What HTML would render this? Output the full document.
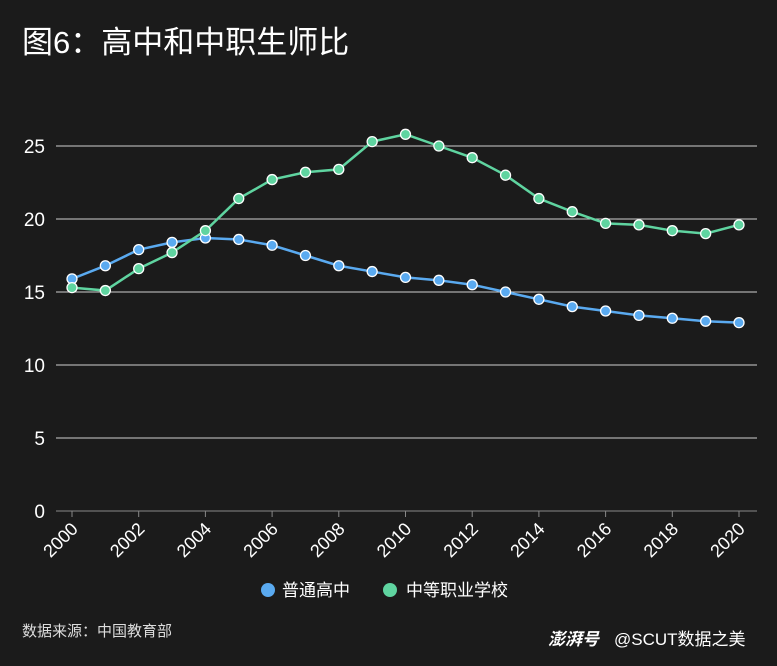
<!DOCTYPE html>
<html><head><meta charset="utf-8">
<style>
html,body{margin:0;padding:0;background:#1b1b1b;}
body{width:777px;height:661px;overflow:hidden;font-family:"Liberation Sans","Noto Sans CJK SC",sans-serif;color:#fff;}
</style></head>
<body>
<svg id="chart" width="777" height="661" xmlns="http://www.w3.org/2000/svg">
<rect width="777" height="661" fill="#1b1b1b"/>
<text x="22" y="53" font-size="31" fill="#fff" font-family="Liberation Sans, Noto Sans CJK SC, sans-serif">图6：高中和中职生师比</text>
<g id="grid"></g><g id="axes"></g><g id="series"></g>
<g>
<g><circle cx="268" cy="590" r="7" fill="#5aaaf0"/><text x="282" y="596" font-size="17" fill="#fff">普通高中</text></g>
<g><circle cx="390" cy="590" r="7" fill="#5fd4a0"/><text x="406" y="596" font-size="17" fill="#fff">中等职业学校</text></g>
</g>
<text x="22" y="636" font-size="15" fill="#ddd">数据来源：中国教育部</text>
<text x="548" y="645" font-size="17" fill="#fff" font-style="italic" font-weight="bold">澎湃号</text>
<text x="614" y="645" font-size="17" fill="#fff">@SCUT数据之美</text>
</svg>
<script>
const years=[2000,2001,2002,2003,2004,2005,2006,2007,2008,2009,2010,2011,2012,2013,2014,2015,2016,2017,2018,2019,2020];
const generalHS=[15.9,16.8,17.9,18.4,18.7,18.6,18.2,17.5,16.8,16.4,16.0,15.8,15.5,15.0,14.5,14.0,13.7,13.4,13.2,13.0,12.9];
const vocational=[15.3,15.1,16.6,17.7,19.2,21.4,22.7,23.2,23.4,25.3,25.8,25.0,24.2,23.0,21.4,20.5,19.7,19.6,19.2,19.0,19.6];
const yTicks=[0,5,10,15,20,25];
const xTickLabels=[2000,2002,2004,2006,2008,2010,2012,2014,2016,2018,2020];
const NS="http://www.w3.org/2000/svg";
const X=v=>72+(v-2000)*(739-72)/20;
const Y=v=>511-v*14.6;
function mk(tag,attrs,parent){const e=document.createElementNS(NS,tag);for(const k in attrs)e.setAttribute(k,attrs[k]);parent.appendChild(e);return e;}
const grid=document.getElementById('grid'),axes=document.getElementById('axes'),series=document.getElementById('series');
yTicks.forEach(t=>{
  const l=mk('line',{x1:56,x2:757,y1:Y(t),y2:Y(t),stroke:t===0?'#888':'#cfcfcf','stroke-width':1},grid);
  
  
  const tx=mk('text',{x:45,y:Y(t)+7,'font-size':19,fill:'#fff','text-anchor':'end'},axes);
  tx.textContent=t;
  
  
});
xTickLabels.forEach(t=>{
  const x=X(t);
  const tk=mk('line',{x1:x,x2:x,y1:511,y2:517,stroke:'#888'},axes);
  
  
  const tx=mk('text',{x:x+7,y:530,'font-size':18,fill:'#fff','text-anchor':'end',transform:`rotate(-45 ${x+7} 530)`},axes);
  tx.textContent=t;
  
  
});
function drawSeries(vals,color,name){
  const p=mk('polyline',{points:vals.map((v,i)=>X(years[i])+','+Y(v)).join(' '),fill:'none',stroke:color,'stroke-width':2.5},series);
  
  
  vals.forEach((v,i)=>{
    const c=mk('circle',{cx:X(years[i]),cy:Y(v),r:5,fill:color,stroke:'#fff','stroke-width':1.3},series);
    
    
  });
}
drawSeries(generalHS,'#5aaaf0','general-high-school');
drawSeries(vocational,'#5fd4a0','vocational-school');
</script>
</body></html>
